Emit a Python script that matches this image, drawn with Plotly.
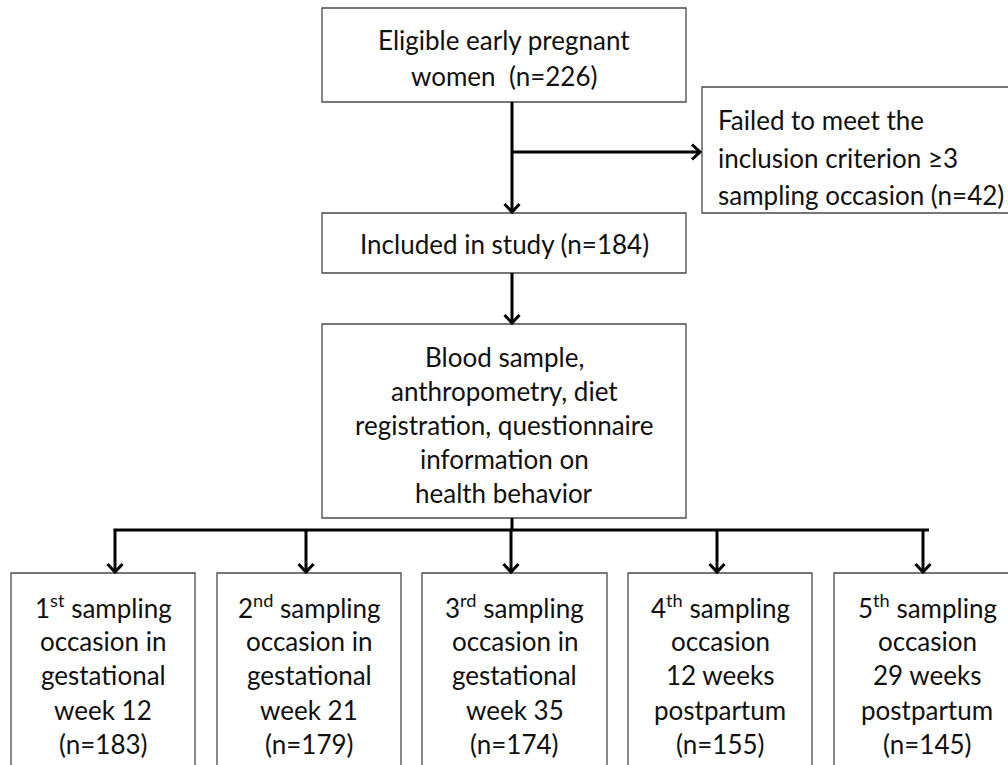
import plotly.graph_objects as go

# ---- content (data) ----
top_text = ["Eligible early pregnant", "women  (n=226)"]
excluded_text = ["Failed to meet the", "inclusion criterion ≥3", "sampling occasion (n=42)"]
included_text = ["Included in study (n=184)"]
measure_text = ["Blood sample,", "anthropometry, diet", "registration, questionnaire",
                "information on", "health behavior"]
occasion_ordinals = ["1<sup>st</sup>", "2<sup>nd</sup>", "3<sup>rd</sup>", "4<sup>th</sup>", "5<sup>th</sup>"]
occasion_times = [["occasion in", "gestational", "week 12"],
                  ["occasion in", "gestational", "week 21"],
                  ["occasion in", "gestational", "week 35"],
                  ["occasion", "12 weeks", "postpartum"],
                  ["occasion", "29 weeks", "postpartum"]]
occasion_n = [183, 179, 174, 155, 145]

# ---- layout geometry ----
W, H = 1008, 765
FONT = "Lato"
FS = 26
TXT = "#111111"
BORDER = "#4a4a4a"

fig = go.Figure()
shapes = []
annots = []


def box(x0, y0, x1, y1):
    shapes.append(dict(type="rect", xref="x", yref="y", x0=x0, y0=y0, x1=x1, y1=y1,
                       line=dict(color=BORDER, width=1.3), fillcolor="white", layer="below"))


def text_lines(lines, x, y_first, spacing, align="center"):
    for i, t in enumerate(lines):
        annots.append(dict(x=x, y=y_first + i * spacing, xref="x", yref="y", text=t,
                           showarrow=False, xanchor=align, yanchor="middle",
                           font=dict(family=FONT, size=FS, color=TXT)))


def line(x0, y0, x1, y1):
    shapes.append(dict(type="line", xref="x", yref="y", x0=x0, y0=y0, x1=x1, y1=y1,
                       line=dict(color="black", width=3)))


def head(x, y, direction):
    if direction == "down":
        p = f"M{x-7.5},{y-9} L{x},{y-1} L{x+7.5},{y-9}"
    else:  # right
        p = f"M{x-9},{y-7.5} L{x-1},{y} L{x-9},{y+7.5}"
    shapes.append(dict(type="path", xref="x", yref="y", path=p,
                       line=dict(color="black", width=3)))


def arrow_down(x, y0, y1):
    line(x, y0, x, y1 - 2)
    head(x, y1, "down")


# top box
box(322, 8, 686, 102)
text_lines(top_text, 504, 40, 36)
# excluded box
box(702, 87, 1012, 213)
text_lines(excluded_text, 716, 120, 37.5, align="left")
# included box
box(322, 213, 686, 273)
text_lines(included_text, 504, 244, 0)
# measurement box
box(322, 324, 686, 518)
text_lines(measure_text, 504, 357, 34)

# connectors
arrow_down(512, 102, 213)
line(512, 152, 699, 152)
head(701, 152, "right")
arrow_down(512, 273, 324)
line(512, 518, 512, 530)
arrow_x = [115, 306, 511, 717, 923]
line(113.5, 530, 929, 530)
for ax_ in arrow_x:
    arrow_down(ax_, 530, 573)

# bottom boxes
box_x = [(11, 195), (217, 401), (422, 607), (628, 812), (834, 1020)]
for (x0, x1), o, tl, n in zip(box_x, occasion_ordinals, occasion_times, occasion_n):
    box(x0, 573, x1, 790)
    lines = [o + " sampling"] + tl + ["(n=%d)" % n]
    text_lines(lines, (x0 + x1) / 2, 606, 34.5)

fig.update_layout(
    width=W, height=H, margin=dict(l=0, r=0, t=0, b=0),
    paper_bgcolor="white", plot_bgcolor="white",
    xaxis=dict(range=[0, W], visible=False, fixedrange=True),
    yaxis=dict(range=[H, 0], visible=False, fixedrange=True),
    shapes=shapes, annotations=annots, showlegend=False,
)
fig.write_html("out.html", config={"displayModeBar": False},
               post_script="document.body.style.margin='0';document.body.style.overflow='hidden';")
